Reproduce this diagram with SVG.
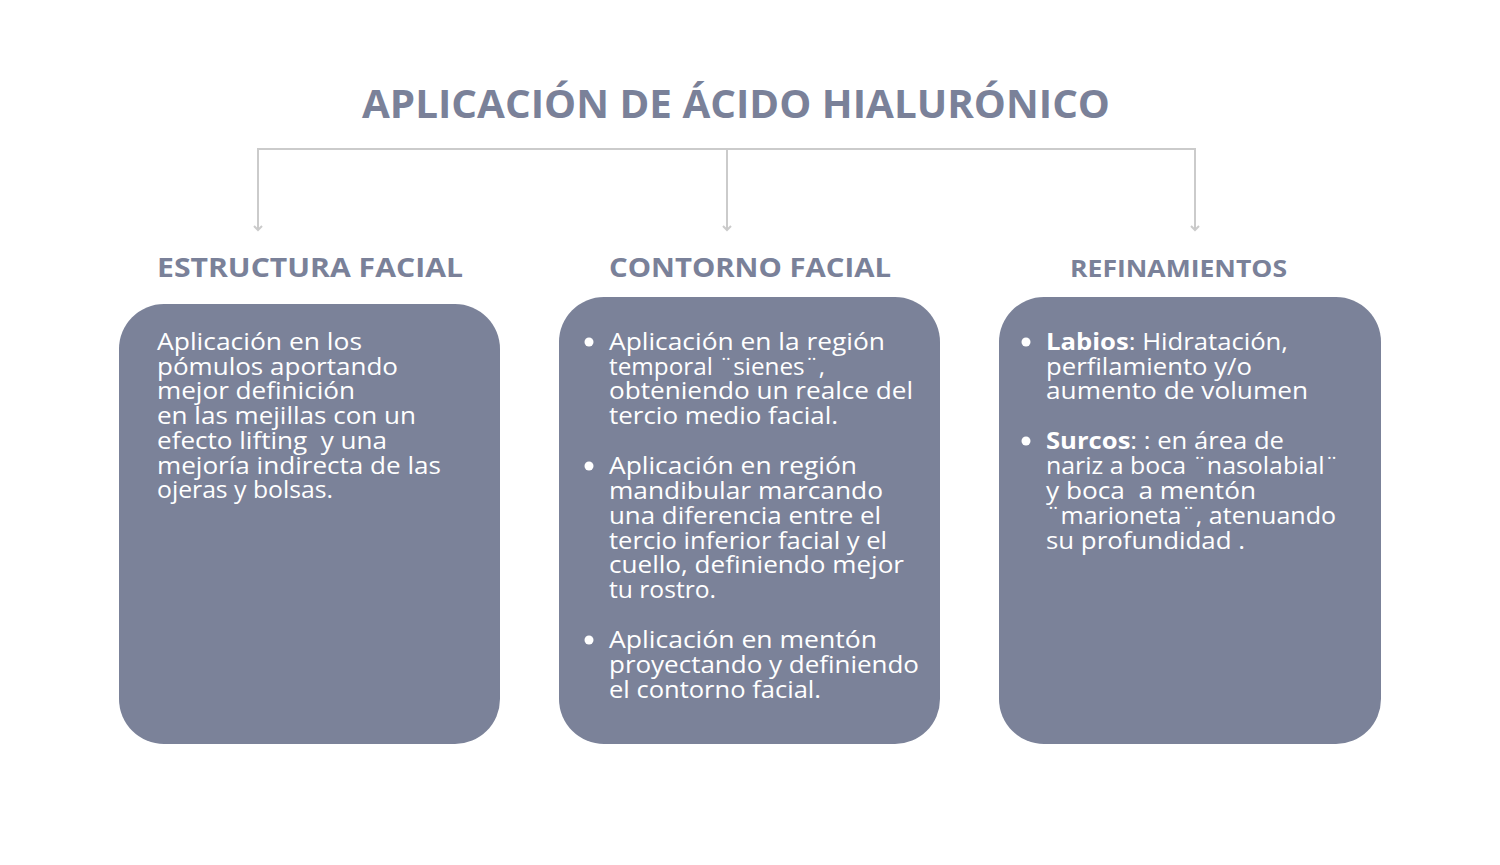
<svg xmlns="http://www.w3.org/2000/svg" width="1500" height="865" viewBox="0 0 1500 865">
<defs>
<style>
.title{font-family:"Open Sans","Liberation Sans",sans-serif;font-weight:700;font-size:40px;fill:#7a8199}
.hdr{font-family:"Open Sans","Liberation Sans",sans-serif;font-weight:700;font-size:27px;fill:#7a8199}
.box{fill:#7b8299}
.t{font-family:"Open Sans","Liberation Sans",sans-serif;font-size:24px;fill:#ffffff}
.b{font-weight:700}
.conn{fill:none;stroke:#cbcbcb;stroke-width:2}
</style>
<marker id="ah" viewBox="0 0 10 10" refX="5" refY="5" markerWidth="5" markerHeight="5" orient="auto">
<path d="M1,1 L5,5 L1,9" fill="none" stroke="#cbcbcb" stroke-width="2"/>
</marker>
</defs>
<rect width="1500" height="865" fill="#ffffff"/>
<g id="title"><text class="title" x="362" y="118" textLength="748" lengthAdjust="spacingAndGlyphs">APLICACIÓN DE ÁCIDO HIALURÓNICO</text></g>
<g id="connectors">
<path class="conn" d="M258,230 L258,149 L1195,149 L1195,230" marker-end="url(#ah)"/>
<path class="conn" d="M258,149 L258,230" marker-end="url(#ah)"/>
<path class="conn" d="M727,149 L727,230" marker-end="url(#ah)"/>
</g>
<g id="estructura">
<text class="hdr" x="157" y="277" textLength="306" lengthAdjust="spacingAndGlyphs">ESTRUCTURA FACIAL</text>
<rect class="box" x="119" y="304" width="381" height="440" rx="45" ry="45"/>
<text class="t" x="157" y="350" textLength="205" lengthAdjust="spacingAndGlyphs">Aplicación en los</text>
<text class="t" x="157" y="375" textLength="241" lengthAdjust="spacingAndGlyphs">pómulos aportando</text>
<text class="t" x="157" y="399" textLength="198" lengthAdjust="spacingAndGlyphs">mejor definición</text>
<text class="t" x="157" y="424" textLength="259" lengthAdjust="spacingAndGlyphs">en las mejillas con un</text>
<text class="t" x="157" y="449" textLength="230" lengthAdjust="spacingAndGlyphs" xml:space="preserve">efecto lifting  y una</text>
<text class="t" x="157" y="474" textLength="284" lengthAdjust="spacingAndGlyphs">mejoría indirecta de las</text>
<text class="t" x="157" y="498" textLength="176" lengthAdjust="spacingAndGlyphs">ojeras y bolsas.</text>
</g>
<g id="contorno">
<text class="hdr" x="609" y="277" textLength="282" lengthAdjust="spacingAndGlyphs">CONTORNO FACIAL</text>
<rect class="box" x="559" y="297" width="381" height="447" rx="45" ry="45"/>
<circle cx="589" cy="342" r="4.5" fill="#fff"/>
<circle cx="589" cy="466" r="4.5" fill="#fff"/>
<circle cx="589" cy="640" r="4.5" fill="#fff"/>
<text class="t" x="609" y="350" textLength="276" lengthAdjust="spacingAndGlyphs">Aplicación en la región</text>
<text class="t" x="609" y="375" textLength="216" lengthAdjust="spacingAndGlyphs">temporal ¨sienes¨,</text>
<text class="t" x="609" y="399" textLength="304" lengthAdjust="spacingAndGlyphs">obteniendo un realce del</text>
<text class="t" x="609" y="424" textLength="229" lengthAdjust="spacingAndGlyphs">tercio medio facial.</text>
<text class="t" x="609" y="474" textLength="248" lengthAdjust="spacingAndGlyphs">Aplicación en región</text>
<text class="t" x="609" y="499" textLength="274" lengthAdjust="spacingAndGlyphs">mandibular marcando</text>
<text class="t" x="609" y="524" textLength="272" lengthAdjust="spacingAndGlyphs">una diferencia entre el</text>
<text class="t" x="609" y="549" textLength="278" lengthAdjust="spacingAndGlyphs">tercio inferior facial y el</text>
<text class="t" x="609" y="573" textLength="295" lengthAdjust="spacingAndGlyphs">cuello, definiendo mejor</text>
<text class="t" x="609" y="598" textLength="107" lengthAdjust="spacingAndGlyphs">tu rostro.</text>
<text class="t" x="609" y="648" textLength="268" lengthAdjust="spacingAndGlyphs">Aplicación en mentón</text>
<text class="t" x="609" y="673" textLength="310" lengthAdjust="spacingAndGlyphs">proyectando y definiendo</text>
<text class="t" x="609" y="698" textLength="212" lengthAdjust="spacingAndGlyphs">el contorno facial.</text>
</g>
<g id="refinamientos">
<text class="hdr" x="1070" y="277" style="font-size:24px" textLength="217" lengthAdjust="spacingAndGlyphs">REFINAMIENTOS</text>
<rect class="box" x="999" y="297" width="382" height="447" rx="45" ry="45"/>
<circle cx="1026" cy="342" r="4.5" fill="#fff"/>
<circle cx="1026" cy="441" r="4.5" fill="#fff"/>
<text class="t" x="1046" y="350" textLength="242" lengthAdjust="spacingAndGlyphs"><tspan class="b">Labios</tspan>: Hidratación,</text>
<text class="t" x="1046" y="375" textLength="206" lengthAdjust="spacingAndGlyphs">perfilamiento y/o</text>
<text class="t" x="1046" y="399" textLength="262" lengthAdjust="spacingAndGlyphs">aumento de volumen</text>
<text class="t" x="1046" y="449" textLength="238" lengthAdjust="spacingAndGlyphs"><tspan class="b">Surcos</tspan>: : en área de</text>
<text class="t" x="1046" y="474" textLength="293" lengthAdjust="spacingAndGlyphs">nariz a boca ¨nasolabial¨</text>
<text class="t" x="1046" y="499" textLength="210" lengthAdjust="spacingAndGlyphs" xml:space="preserve">y boca  a mentón</text>
<text class="t" x="1046" y="524" textLength="290" lengthAdjust="spacingAndGlyphs">¨marioneta¨, atenuando</text>
<text class="t" x="1046" y="549" textLength="199" lengthAdjust="spacingAndGlyphs">su profundidad .</text>
</g>
</svg>
